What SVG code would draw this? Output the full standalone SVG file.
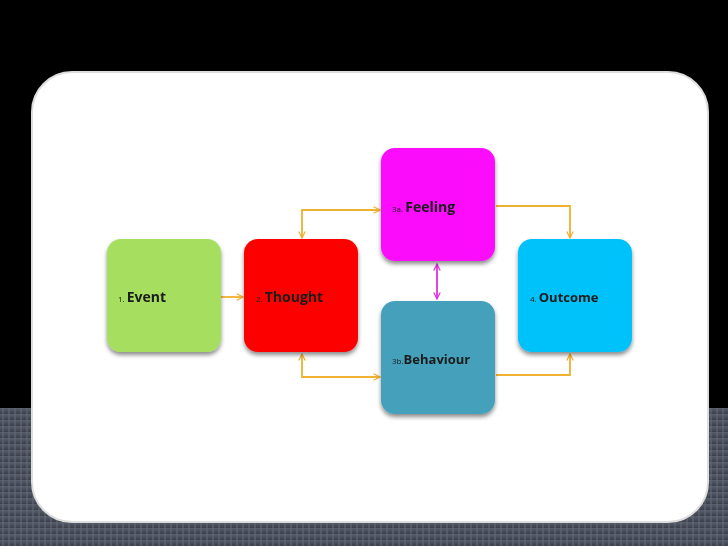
<svg xmlns="http://www.w3.org/2000/svg" width="728" height="546" viewBox="0 0 728 546">
<defs>
<linearGradient id="bot" x1="0" y1="0" x2="0" y2="1"><stop offset="0" stop-color="#5a5f6e"/><stop offset="1" stop-color="#3a3e4a"/></linearGradient>
<pattern id="str" width="6" height="6" patternUnits="userSpaceOnUse"><rect width="6" height="6" fill="url(#bot)"/><line x1="3" y1="0" x2="3" y2="6" stroke="#666b78" stroke-width="1"/></pattern>
<filter id="sh" x="-20%" y="-20%" width="140%" height="140%"><feDropShadow dx="0" dy="3" stdDeviation="2" flood-color="#000" flood-opacity="0.45"/></filter>
<marker id="ao" viewBox="0 0 10 10" refX="9" refY="5" markerWidth="8" markerHeight="8" orient="auto-start-reverse" markerUnits="userSpaceOnUse"><path d="M1,1 L9,5 L1,9" fill="none" stroke="#f0b030" stroke-width="1.5"/></marker>
<marker id="am" viewBox="0 0 10 10" refX="9" refY="5" markerWidth="8" markerHeight="8" orient="auto-start-reverse" markerUnits="userSpaceOnUse"><path d="M1,1 L9,5 L1,9" fill="none" stroke="#e030e0" stroke-width="1.5"/></marker>
</defs>
<style>
.n{filter:url(#sh)}
.t{font-family:"Open Sans","Liberation Sans",sans-serif;font-weight:bold;font-size:14px;fill:#1a1a1a}
.s{font-size:8px;font-weight:normal}
.c{fill:none;stroke:#f0b030;stroke-width:1.8;marker-end:url(#ao);marker-start:url(#ao)}
</style>
<rect width="728" height="546" fill="#000"/>
<rect y="408" width="728" height="138" fill="url(#str)"/>
<rect x="32" y="72" width="676" height="450" rx="40" fill="#fff" stroke="#ddd" stroke-width="2"/>
<g id="connectors">
<path class="c" d="M221,297 L243,297" style="marker-start:none"/>
<path class="c" d="M302,238 L302,210 L380,210"/>
<path class="c" d="M302,354 L302,377 L380,377"/>
<path class="c" d="M496,206 L570,206 L570,238" style="marker-start:none"/>
<path class="c" d="M496,375 L570,375 L570,354" style="marker-start:none"/>
<path d="M437,264 L437,299" fill="none" stroke="#e030e0" stroke-width="1.8" marker-start="url(#am)" marker-end="url(#am)"/>
</g>
<g id="event" class="n"><rect x="107" y="239" width="114" height="113" rx="14" fill="#a6df5e"/><text class="t" x="118" y="302"><tspan class="s">1. </tspan>Event</text></g>
<g id="thought" class="n"><rect x="244" y="239" width="114" height="113" rx="14" fill="#fc0404"/><text class="t" x="256" y="302"><tspan class="s">2. </tspan>Thought</text></g>
<g id="feeling" class="n"><rect x="381" y="148" width="114" height="113" rx="14" fill="#fb0bfb"/><text class="t" x="392" y="212"><tspan class="s">3a. </tspan>Feeling</text></g>
<g id="behaviour" class="n"><rect x="381" y="301" width="114" height="113" rx="14" fill="#44a1bb"/><text class="t" x="392" y="364" style="font-size:13px"><tspan class="s">3b.</tspan>Behaviour</text></g>
<g id="outcome" class="n"><rect x="518" y="239" width="114" height="113" rx="14" fill="#04c2fb"/><text class="t" x="530" y="302" style="font-size:13px"><tspan class="s">4. </tspan>Outcome</text></g>
</svg>
